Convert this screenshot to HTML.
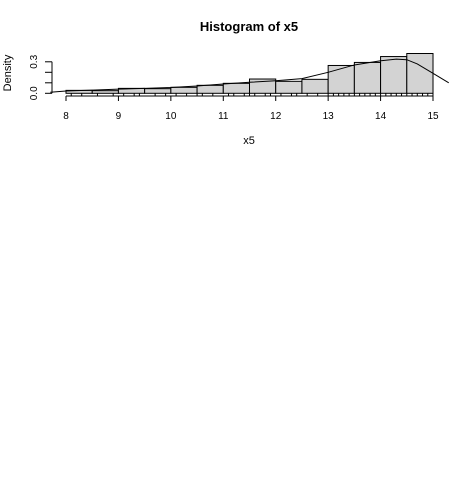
<!DOCTYPE html>
<html><head><meta charset="utf-8"><style>
body{margin:0;background:#fff}
svg{display:block;font-family:"Liberation Sans",Arial,sans-serif}
</style></head><body>
<svg id="c" width="475" height="479">
<text x="249" y="31" text-anchor="middle" font-size="13" font-weight="bold">Histogram of x5</text>
<text x="249" y="144" text-anchor="middle" font-size="11">x5</text>
<text transform="translate(11,73) rotate(-90)" text-anchor="middle" font-size="11" fill="#000">Density</text>
<g id="bars"></g><g id="rug"></g><g id="axes"></g>
<path id="dens" fill="none" stroke="#000" stroke-width="1"/>
</svg>
<script>
const breaks=[8,8.5,9,9.5,10,10.5,11,11.5,12,12.5,13,13.5,14,14.5,15];
const densities=[0.028,0.025,0.047,0.044,0.057,0.076,0.095,0.136,0.114,0.133,0.265,0.294,0.35,0.379];
const curveX=[7.7,8,8.5,9,9.5,10,10.5,11,11.5,12,12.5,13,13.5,14,14.3,14.5,14.7,15,15.3];
const curveY=[0.01,0.022,0.03,0.04,0.047,0.055,0.07,0.088,0.105,0.12,0.14,0.2,0.27,0.31,0.325,0.32,0.28,0.19,0.1];
const xTicks=[8,9,10,11,12,13,14,15];
const yTicks=[0,0.1,0.2,0.3];
const yLabels=["0.0","","","0.3"];
const rugX=[8.1,8.3,8.6,8.9,9.1,9.3,9.4,9.7,9.9,10.1,10.3,10.5,10.6,10.8,11.1,11.2,11.4,11.5,11.6,11.8,11.9,12.1,12.3,12.4,12.6,12.8,13.0,13.1,13.2,13.3,13.4,13.5,13.6,13.7,13.8,13.9,14.0,14.1,14.2,14.3,14.4,14.5,14.6,14.7,14.8,14.9,15.0];
const X=v=>66+(v-8)*52.43, Y=v=>93.3-v*105;
const NS="http://www.w3.org/2000/svg";
function mk(t,p,a){const e=document.createElementNS(NS,t);for(const k in a)e.setAttribute(k,a[k]);p.appendChild(e);return e;}
const bars=document.getElementById('bars');
densities.forEach((d,i)=>{
 const r=mk('rect',bars,{x:X(breaks[i]),y:Y(d),width:X(breaks[i+1])-X(breaks[i]),height:Y(0)-Y(d),fill:'#d3d3d3',stroke:'#000','stroke-width':1});
 
 
});
const rug=document.getElementById('rug');
rugX.forEach(v=>{
 const l=mk('line',rug,{x1:X(v),x2:X(v),y1:93,y2:96,stroke:'#000','stroke-width':1});
 
 
});
const ax=document.getElementById('axes');
mk('line',ax,{x1:X(8),x2:X(15),y1:96,y2:96,stroke:'#000'});
xTicks.forEach((v,i)=>{
 mk('line',ax,{x1:X(v),x2:X(v),y1:96,y2:101,stroke:'#000'});
 const t=mk('text',ax,{x:X(v),y:119,'text-anchor':'middle','font-size':10,fill:'#000'});
 t.textContent=v;
 
 
});
mk('line',ax,{x1:52,x2:52,y1:Y(0),y2:Y(0.3),stroke:'#000'});
yTicks.forEach((v,i)=>{
 mk('line',ax,{x1:45,x2:52,y1:Y(v),y2:Y(v),stroke:'#000'});
 if(yLabels[i]){const t=mk('text',ax,{transform:`translate(37,${Y(v)}) rotate(-90)`,'text-anchor':'middle','font-size':10});
 t.textContent=yLabels[i];
 
 }
});
document.getElementById('dens').setAttribute('d',curveX.map((v,i)=>(i?'L':'M')+X(v)+','+Y(curveY[i])).join(''));
</script>
</body></html>
